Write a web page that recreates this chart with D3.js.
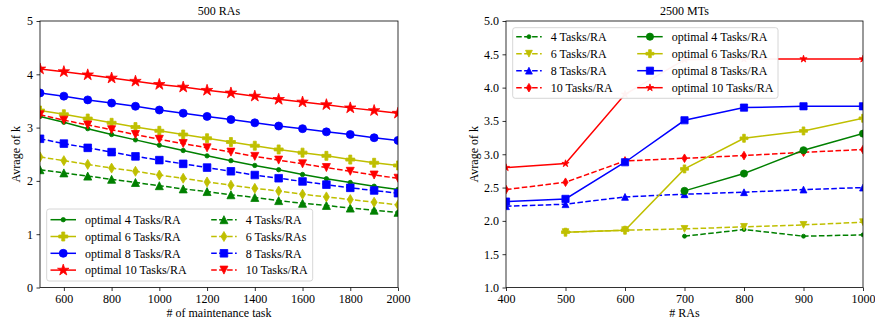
<!DOCTYPE html>
<html><head><meta charset="utf-8">
<script src="https://cdn.jsdelivr.net/npm/d3@7"></script>
<style>
body{margin:0;background:#fff}
svg{display:block}
text{font-family:"Liberation Serif","Times New Roman",serif;fill:#000}
</style>
</head><body>
<svg id="chart" width="875" height="324"></svg>
<script>
// ---------- Left panel data (500 RAs) ----------
const tasksX = [500,600,700,800,900,1000,1100,1200,1300,1400,1500,1600,1700,1800,1900,2000];
const leftOpt4  = [3.21,3.10,2.98,2.87,2.77,2.67,2.57,2.47,2.38,2.29,2.21,2.12,2.04,1.97,1.90,1.84];
const leftOpt6  = [3.32,3.25,3.17,3.09,3.01,2.94,2.87,2.80,2.73,2.66,2.59,2.53,2.47,2.40,2.34,2.29];
const leftOpt8  = [3.65,3.59,3.52,3.46,3.40,3.33,3.27,3.21,3.15,3.09,3.03,2.98,2.92,2.87,2.81,2.76];
const leftOpt10 = [4.10,4.05,3.99,3.93,3.87,3.81,3.76,3.70,3.65,3.59,3.53,3.48,3.43,3.37,3.32,3.27];
const left4  = [2.21,2.15,2.09,2.03,1.97,1.91,1.85,1.80,1.74,1.69,1.63,1.58,1.54,1.49,1.45,1.41];
const left6  = [2.45,2.38,2.31,2.24,2.18,2.11,2.05,1.98,1.92,1.86,1.81,1.75,1.70,1.65,1.60,1.55];
const left8  = [2.79,2.70,2.62,2.54,2.46,2.39,2.32,2.25,2.18,2.11,2.05,1.99,1.93,1.87,1.82,1.77];
const left10 = [3.24,3.14,3.05,2.96,2.87,2.78,2.70,2.62,2.54,2.46,2.39,2.32,2.25,2.18,2.11,2.05];
const leftXTicks = [600,800,1000,1200,1400,1600,1800,2000];
const leftYTicks = [0,1,2,3,4,5];

// ---------- Right panel data (2500 MTs) ----------
const rasX = [400,500,600,700,800,900,1000];
const right4  = [null,null,null,1.77,1.87,1.77,1.79];
const right6  = [null,1.83,1.86,1.88,1.91,1.94,1.98];
const right8  = [2.22,2.25,2.36,2.40,2.43,2.47,2.50];
const right10 = [2.47,2.58,2.90,2.94,2.98,3.03,3.07];
const rightOpt4  = [null,null,null,2.45,2.71,3.06,3.31];
const rightOpt6  = [null,1.83,1.86,2.78,3.24,3.35,3.54];
const rightOpt8  = [2.29,2.33,2.88,3.51,3.70,3.72,3.72];
const rightOpt10 = [2.80,2.86,3.90,4.42,4.43,4.43,4.43];
const rightXTicks = [400,500,600,700,800,900,1000];
const rightYTicks = [1.0,1.5,2.0,2.5,3.0,3.5,4.0,4.5,5.0];

const C = {g:"#008000", y:"#bfbf00", b:"#0000ff", r:"#ff0000"};

function markerPath(type, r){
  switch(type){
    case 'o': case '.':
      return `M${r},0A${r},${r} 0 1,1 ${-r},0A${r},${r} 0 1,1 ${r},0Z`;
    case 's': return `M${-r},${-r}H${r}V${r}H${-r}Z`;
    case '^': return `M0,${-r}L${r},${r}L${-r},${r}Z`;
    case 'v': return `M0,${r}L${r},${-r}L${-r},${-r}Z`;
    case 'd': return `M0,${-r}L${0.6*r},0L0,${r}L${-0.6*r},0Z`;
    case 'P': {
      const a = r/3;
      return `M${-a},${-r}H${a}V${-a}H${r}V${a}H${a}V${r}H${-a}V${a}H${-r}V${-a}H${-a}Z`;
    }
    case '*': {
      const pts = [];
      for(let i=0;i<10;i++){
        const rr = i%2===0 ? r : r*0.381966;
        const ang = -Math.PI/2 + i*Math.PI/5;
        pts.push([rr*Math.cos(ang), rr*Math.sin(ang)]);
      }
      return "M"+pts.map(p=>p[0].toFixed(2)+","+p[1].toFixed(2)).join("L")+"Z";
    }
  }
}

const svg = d3.select("#chart");
const FS = 12;

function panel(cfg){
  const {x0,x1,y0,y1,xDomain,yDomain,xs,series,xTicks,yTicks,yFmt,title,xLabel,yLabelX,legend,id} = cfg;
  const x = d3.scaleLinear().domain(xDomain).range([x0,x1]);
  const y = d3.scaleLinear().domain(yDomain).range([y1,y0]);
  const g = svg.append("g");
  g.append("clipPath").attr("id",id).append("rect")
    .attr("x",x0).attr("y",y0).attr("width",x1-x0).attr("height",y1-y0);
  const plot = g.append("g").attr("clip-path",`url(#${id})`);
  series.forEach(s=>{
    const pts = xs.map((xv,i)=>({x:xv,v:s.values[i]}));
    const line = d3.line().defined(d=>d.v!=null).x(d=>x(d.x)).y(d=>y(d.v));
    plot.append("path").attr("d",line(pts)).attr("fill","none")
      .attr("stroke",s.color).attr("stroke-width",1.5)
      .attr("stroke-dasharray",s.dash?"5.55,2.4":null);
    plot.selectAll(null).data(pts.filter(d=>d.v!=null)).enter().append("path")
      .attr("d",markerPath(s.marker,s.size))
      .attr("transform",d=>`translate(${x(d.x)},${y(d.v)})`)
      .attr("fill",s.color).attr("stroke",s.color).attr("stroke-width",0.8);
  });
  // axes
  const xa = g.append("g").attr("transform",`translate(0,${y1})`)
    .call(d3.axisBottom(x).tickValues(xTicks).tickSize(3.5).tickPadding(3.5).tickFormat(d3.format("d")));
  const ya = g.append("g").attr("transform",`translate(${x0},0)`)
    .call(d3.axisLeft(y).tickValues(yTicks).tickSize(3.5).tickPadding(3.5).tickFormat(yFmt));
  [xa,ya].forEach(a=>{
    a.select(".domain").remove();
    a.selectAll("line").attr("stroke","#000").attr("stroke-width",0.8);
    a.selectAll("text").attr("font-size",FS).attr("font-family","Liberation Serif");
  });
  g.append("rect").attr("x",x0).attr("y",y0).attr("width",x1-x0).attr("height",y1-y0)
    .attr("fill","none").attr("stroke","#000").attr("stroke-width",0.8);
  g.append("text").attr("x",(x0+x1)/2).attr("y",15).attr("text-anchor","middle")
    .attr("font-size",FS).text(title);
  g.append("text").attr("x",(x0+x1)/2).attr("y",317).attr("text-anchor","middle")
    .attr("font-size",FS).text(xLabel);
  g.append("text").attr("transform",`translate(${yLabelX},${(y0+y1)/2}) rotate(-90)`)
    .attr("text-anchor","middle").attr("font-size",FS).text("Avrage of k");
  // legend
  const L = legend;
  const lg = g.append("g");
  lg.append("rect").attr("x",L.x).attr("y",L.y).attr("width",L.w).attr("height",L.h)
    .attr("rx",2.5).attr("fill","#fff").attr("fill-opacity",0.95).attr("stroke","#cccccc").attr("stroke-width",0.8);
  series.forEach((s,i)=>{
    const col = Math.floor(i/4), row = i%4;
    const tx = L.cols[col], ty = L.row0 + row*L.dy;
    const hx1 = tx-9, hx0 = hx1-25.5;
    lg.append("line").attr("x1",hx0).attr("x2",hx1).attr("y1",ty).attr("y2",ty)
      .attr("stroke",s.color).attr("stroke-width",1.5).attr("stroke-dasharray",s.dash?"5.55,2.4":null);
    lg.append("path").attr("d",markerPath(s.marker,s.size))
      .attr("transform",`translate(${(hx0+hx1)/2},${ty})`)
      .attr("fill",s.color).attr("stroke",s.color).attr("stroke-width",0.8);
    lg.append("text").attr("x",tx).attr("y",ty).attr("dy","0.35em")
      .attr("font-size",FS).text(s.label);
  });
}

panel({
  id:"clipL", x0:40, x1:398, y0:21, y1:287.5,
  xDomain:[500,2000], yDomain:[0,5], xs:tasksX,
  xTicks:leftXTicks, yTicks:leftYTicks, yFmt:d3.format("d"),
  title:"500 RAs", xLabel:"# of maintenance task", yLabelX:20,
  series:[
    {label:"optimal 4 Tasks/RA", values:leftOpt4, color:C.g, dash:false, marker:'.', size:2.2},
    {label:"optimal 6 Tasks/RA", values:leftOpt6, color:C.y, dash:false, marker:'P', size:4.5},
    {label:"optimal 8 Tasks/RA", values:leftOpt8, color:C.b, dash:false, marker:'o', size:4},
    {label:"optimal 10 Tasks/RA", values:leftOpt10, color:C.r, dash:false, marker:'*', size:6},
    {label:"4 Tasks/RA", values:left4, color:C.g, dash:true, marker:'^', size:4},
    {label:"6 Tasks/RAs", values:left6, color:C.y, dash:true, marker:'d', size:5},
    {label:"8 Tasks/RA", values:left8, color:C.b, dash:true, marker:'s', size:3.8},
    {label:"10 Tasks/RA", values:left10, color:C.r, dash:true, marker:'v', size:4}
  ],
  legend:{x:46.7, y:209, w:266, h:72, cols:[85,245.7], row0:219.7, dy:16.8}
});

panel({
  id:"clipR", x0:506, x1:863, y0:21, y1:287.5,
  xDomain:[400,1000], yDomain:[1,5], xs:rasX,
  xTicks:rightXTicks, yTicks:rightYTicks, yFmt:d3.format(".1f"),
  title:"2500 MTs", xLabel:"# RAs", yLabelX:478,
  series:[
    {label:"4 Tasks/RA", values:right4, color:C.g, dash:true, marker:'.', size:2},
    {label:"6 Tasks/RA", values:right6, color:C.y, dash:true, marker:'v', size:3.4},
    {label:"8 Tasks/RA", values:right8, color:C.b, dash:true, marker:'^', size:3.4},
    {label:"10 Tasks/RA", values:right10, color:C.r, dash:true, marker:'d', size:4.3},
    {label:"optimal 4 Tasks/RA", values:rightOpt4, color:C.g, dash:false, marker:'o', size:3.6},
    {label:"optimal 6 Tasks/RA", values:rightOpt6, color:C.y, dash:false, marker:'P', size:4},
    {label:"optimal 8 Tasks/RA", values:rightOpt8, color:C.b, dash:false, marker:'s', size:3.6},
    {label:"optimal 10 Tasks/RA", values:rightOpt10, color:C.r, dash:false, marker:'*', size:3.8}
  ],
  legend:{x:512.7, y:27.7, w:265.3, h:70.6, cols:[550.7,671.7], row0:36.7, dy:17}
});
</script>
</body></html>
